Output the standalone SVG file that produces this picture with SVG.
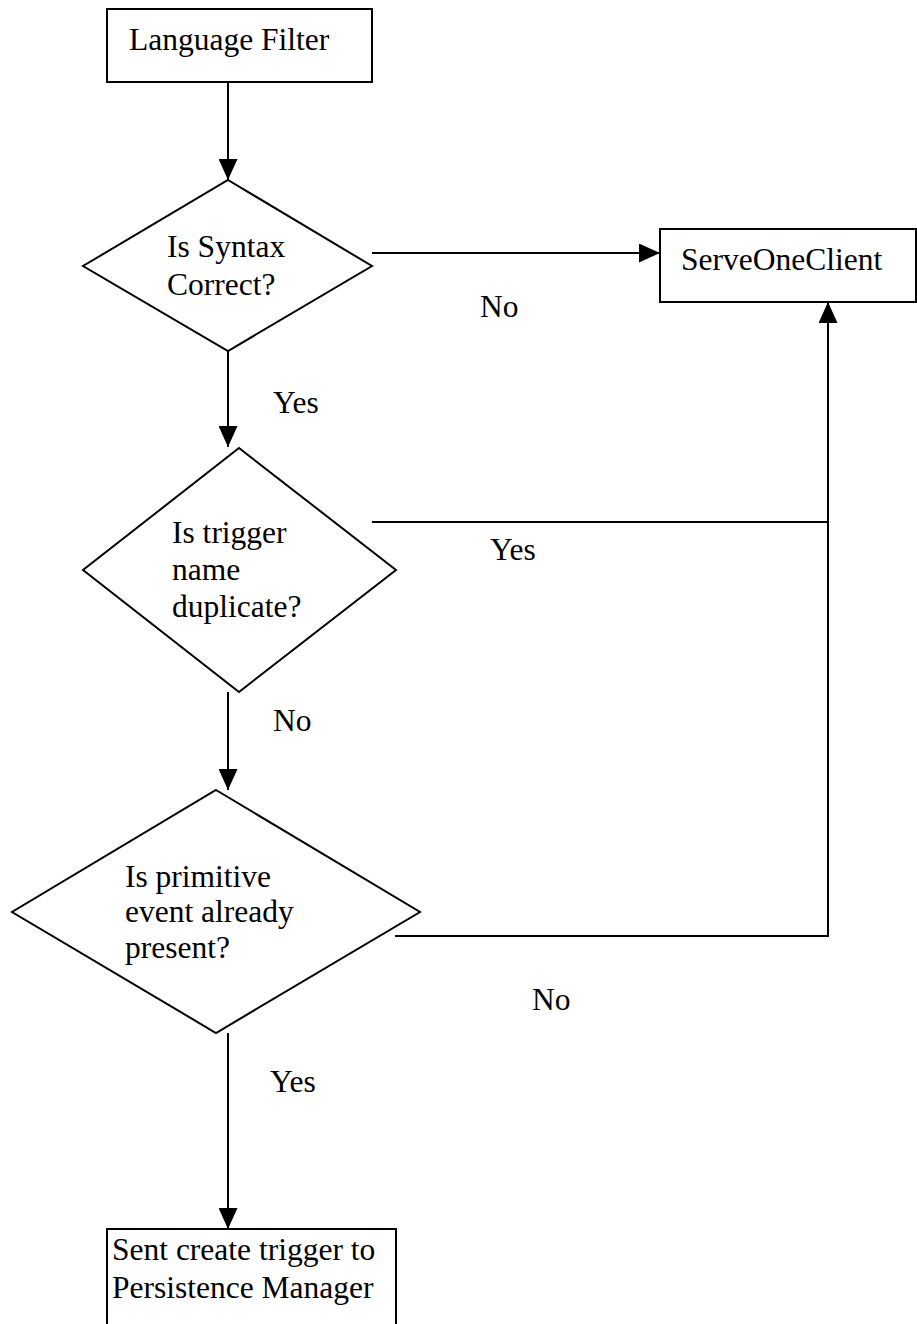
<svg xmlns="http://www.w3.org/2000/svg" width="917" height="1324" viewBox="0 0 917 1324">
  <style>
    .shape { fill: #ffffff; stroke: #000000; stroke-width: 2; }
    .edge { fill: none; stroke: #000000; stroke-width: 2; }
    text { font-family: "Liberation Serif", "Times New Roman", serif; font-size: 31.5px; fill: #000000; }
  </style>
  <defs>
    <marker id="arrow" viewBox="0 0 21 19" refX="21" refY="9.5" markerWidth="21" markerHeight="19" markerUnits="userSpaceOnUse" orient="auto">
      <path d="M0,0 L21,9.5 L0,19 Z" fill="#000000"/>
    </marker>
  </defs>
  <rect width="917" height="1324" fill="#ffffff"/>

  <!-- connectors -->
  <g id="connectors">
    <path class="edge" d="M228,82 V180" marker-end="url(#arrow)"/>
    <path class="edge" d="M372,253 H660" marker-end="url(#arrow)"/>
    <path class="edge" d="M228,351 V447" marker-end="url(#arrow)"/>
    <path class="edge" d="M372,522 H828"/>
    <path class="edge" d="M228,692 V790" marker-end="url(#arrow)"/>
    <path class="edge" d="M395,936 H828 V302" marker-end="url(#arrow)"/>
    <path class="edge" d="M228,1033 V1229" marker-end="url(#arrow)"/>
    <text x="480" y="317">No</text>
    <text x="273" y="413">Yes</text>
    <text x="490" y="560">Yes</text>
    <text x="273" y="731">No</text>
    <text x="532" y="1010">No</text>
    <text x="270" y="1092">Yes</text>
  </g>

  <!-- nodes -->
  <g id="language-filter">
    <rect class="shape" x="107" y="9" width="265" height="73"/>
    <text x="129" y="50">Language Filter</text>
  </g>

  <g id="syntax-check">
    <polygon class="shape" points="228,180 372,266 228,351 83,266"/>
    <text x="167" y="257">Is Syntax</text>
    <text x="167" y="295">Correct?</text>
  </g>

  <g id="serve-one-client">
    <rect class="shape" x="660" y="229" width="256" height="73"/>
    <text x="681" y="270">ServeOneClient</text>
  </g>

  <g id="duplicate-check">
    <polygon class="shape" points="239,448 396,570 239,692 83,570"/>
    <text x="172" y="543">Is trigger</text>
    <text x="172" y="580">name</text>
    <text x="172" y="617">duplicate?</text>
  </g>

  <g id="event-check">
    <polygon class="shape" points="216,790 420,912 216,1033 12,912"/>
    <text x="125" y="887">Is primitive</text>
    <text x="125" y="922">event already</text>
    <text x="125" y="958">present?</text>
  </g>

  <g id="persistence-manager">
    <rect class="shape" x="107" y="1229" width="289" height="110"/>
    <text x="112" y="1260">Sent create trigger to</text>
    <text x="112" y="1298">Persistence Manager</text>
  </g>
</svg>
